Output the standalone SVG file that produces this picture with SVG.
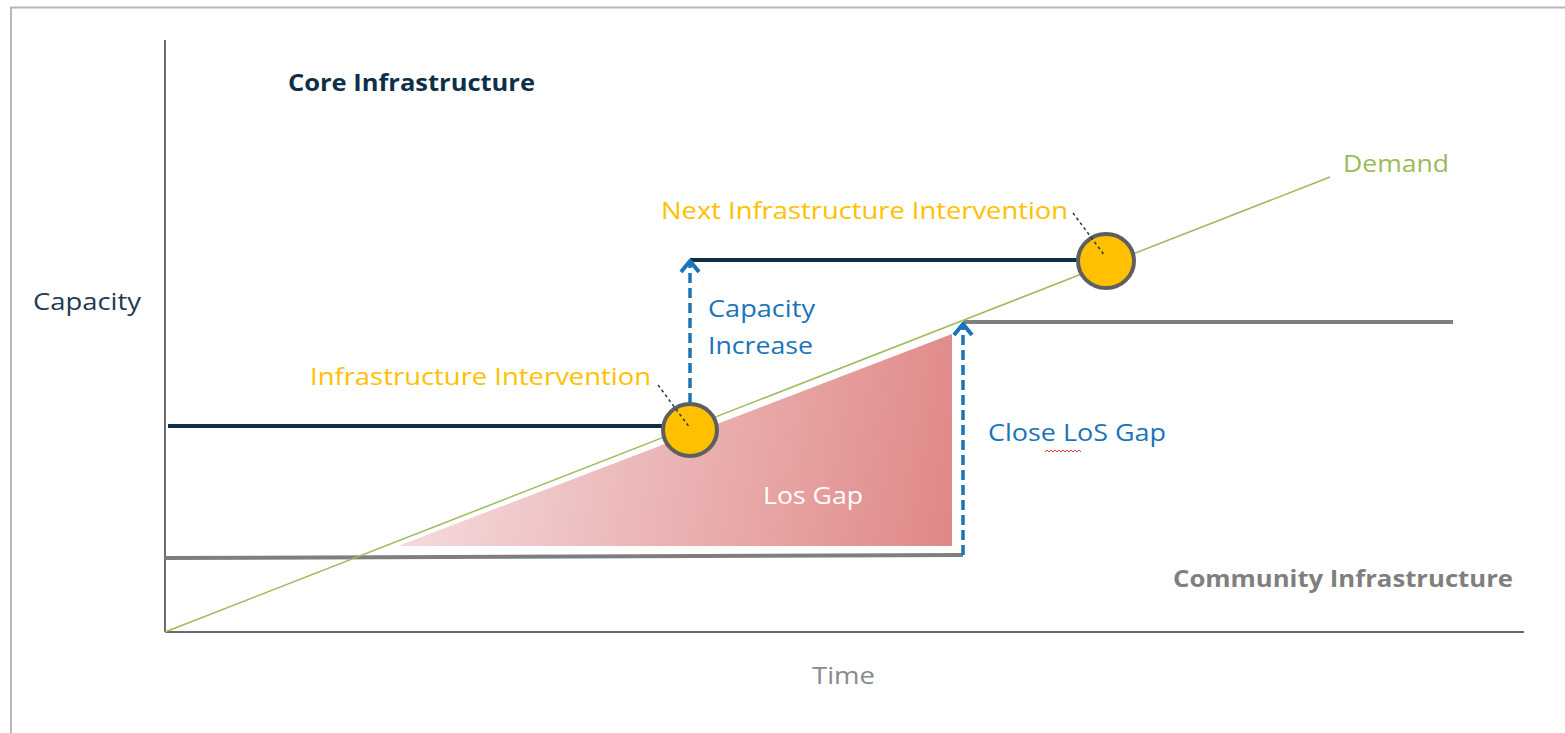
<svg xmlns="http://www.w3.org/2000/svg" width="1565" height="733" viewBox="0 0 1565 733">
  <style>
    text { font-family: "Open Sans", "Liberation Sans", sans-serif; font-size: 24px; }
    .bold { font-weight: bold; }
    .navy { fill: #0e2f47; }
    .yellow { fill: #ffc000; }
    .blue { fill: #1b74b9; }
    .gray { fill: #7f7f7f; }
    .green { fill: #9bbb59; }
    .axis { stroke: #3a3a3a; stroke-width: 1.5; fill: none; }
    .core { stroke: #0e2f47; stroke-width: 4; fill: none; }
    .comm { stroke: #7f7f7f; stroke-width: 4; fill: none; }
    .demand { stroke: #9bbb59; stroke-width: 1.5; fill: none; }
    .arrow { stroke: #1b74b9; stroke-width: 3.5; stroke-dasharray: 10 5; fill: none; marker-end: url(#chev); }
    .leader { stroke: #1f3b53; stroke-width: 1.5; stroke-dasharray: 3 3; fill: none; }
    .node { fill: #ffc000; stroke: #5f5f5f; stroke-width: 4; }
  </style>
  <defs>
    <marker id="chev" viewBox="-15 -12 17 24" refX="0" refY="0" markerWidth="17" markerHeight="24" markerUnits="userSpaceOnUse" orient="auto">
      <path d="M -11 -9 L 0 0 L -11 9" fill="none" stroke="#1b74b9" stroke-width="4" stroke-linejoin="miter"/>
    </marker>
    <linearGradient id="gap" gradientUnits="userSpaceOnUse" x1="400" y1="470" x2="952" y2="560">
      <stop offset="0" stop-color="#f5dcdd"/>
      <stop offset="1" stop-color="#e08787"/>
    </linearGradient>
  </defs>

  <rect x="11" y="7.5" width="1600" height="800" fill="#ffffff" stroke="#b8b8b8" stroke-width="2"/>

  <g id="axes">
    <line class="axis" x1="165" y1="40" x2="165" y2="632"/>
    <line class="axis" x1="165" y1="632" x2="1524" y2="632"/>
    <text x="33" y="310" class="navy" textLength="108" lengthAdjust="spacingAndGlyphs" style="fill:#1f3b53">Capacity</text>
    <text x="812" y="684" class="gray" textLength="63" lengthAdjust="spacingAndGlyphs" style="fill:#8a8a8a">Time</text>
  </g>

  <g id="los-gap">
    <polygon points="398,546 952,546 952,334" fill="url(#gap)"/>
    <text x="763" y="504" fill="#ffffff" textLength="100" lengthAdjust="spacingAndGlyphs">Los Gap</text>
  </g>

  <g id="connectors">
    <line class="comm" x1="165" y1="558" x2="963" y2="555"/>
    <line class="comm" x1="963" y1="322" x2="1453" y2="322"/>
    <line class="core" x1="168" y1="426" x2="664" y2="426"/>
    <line class="core" x1="690" y1="260" x2="1080" y2="260"/>
    <line class="demand" x1="165" y1="632" x2="1330" y2="177"/>
    <line class="arrow" x1="690" y1="403" x2="690" y2="261"/>
    <line class="arrow" x1="963" y1="555" x2="963" y2="324"/>
  </g>

  <g id="core-infrastructure">
    <text x="288" y="91" class="navy bold" textLength="247" lengthAdjust="spacingAndGlyphs">Core Infrastructure</text>
  </g>

  <g id="community-infrastructure">
    <text x="1173" y="587" class="gray bold" textLength="340" lengthAdjust="spacingAndGlyphs">Community Infrastructure</text>
  </g>

  <g id="demand">
    <text x="1343" y="172" class="green" textLength="106" lengthAdjust="spacingAndGlyphs">Demand</text>
  </g>

  <g id="intervention">
    <ellipse class="node" cx="690" cy="430" rx="27" ry="26"/>
    <line class="leader" x1="658" y1="385" x2="690" y2="428"/>
    <text x="310" y="385" class="yellow" textLength="341" lengthAdjust="spacingAndGlyphs">Infrastructure Intervention</text>
  </g>

  <g id="next-intervention">
    <ellipse class="node" cx="1106" cy="261" rx="28" ry="27"/>
    <line class="leader" x1="1073" y1="213" x2="1105" y2="256"/>
    <text x="661" y="219" class="yellow" textLength="407" lengthAdjust="spacingAndGlyphs">Next Infrastructure Intervention</text>
  </g>

  <g id="capacity-increase">
    <text x="708" y="317" class="blue" textLength="107" lengthAdjust="spacingAndGlyphs">Capacity</text>
    <text x="708" y="354" class="blue" textLength="105" lengthAdjust="spacingAndGlyphs">Increase</text>
  </g>

  <g id="close-los-gap">
    <text x="988" y="441" class="blue" textLength="178" lengthAdjust="spacingAndGlyphs">Close LoS Gap</text>
    <path d="M1045 452 l2 -2 l2 2 l2 -2 l2 2 l2 -2 l2 2 l2 -2 l2 2 l2 -2 l2 2 l2 -2 l2 2 l2 -2 l2 2 l2 -2 l2 2 l2 -2 l2 2" fill="none" stroke="#e03a3a" stroke-width="1"/>
  </g>
</svg>
